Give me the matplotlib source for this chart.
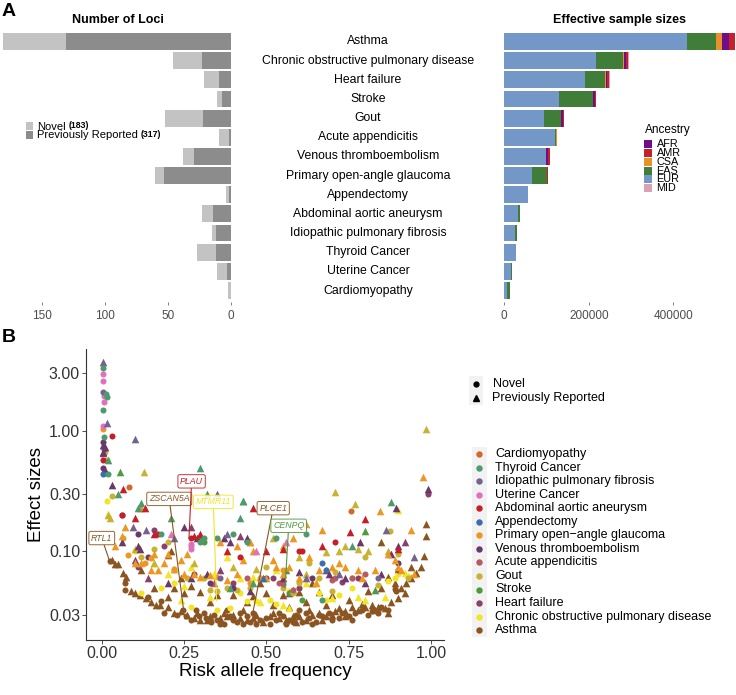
import matplotlib
matplotlib.use("Agg")
import matplotlib.pyplot as plt
import matplotlib.transforms as mtransforms
from matplotlib.patches import Rectangle
import numpy as np

plt.rcParams['font.family'] = ['Liberation Sans', 'DejaVu Sans']

W, H = 736, 695

# ---- panel A data (top to bottom) ----
diseases = ['Asthma', 'Chronic obstructive pulmonary disease', 'Heart failure', 'Stroke', 'Gout',
            'Acute appendicitis', 'Venous thromboembolism', 'Primary open-angle glaucoma', 'Appendectomy',
            'Abdominal aortic aneurysm', 'Idiopathic pulmonary fibrosis', 'Thyroid Cancer',
            'Uterine Cancer', 'Cardiomyopathy']
loci_prev = [131, 23, 9, 7, 22, 1, 29, 53, 1, 14, 12, 12, 3, 0]
loci_novel = [50, 23, 12, 4, 30, 8, 9, 7, 3, 9, 3, 15, 8, 2]

ancestries = ['EUR', 'EAS', 'CSA', 'AFR', 'AMR', 'MID']
n_eur = [433000, 216000, 190000, 129000, 94000, 120000, 98000, 65000, 57000, 33000, 26000, 27000, 15600, 7000]
n_eas = [68000, 64000, 48000, 80000, 40000, 2000, 1000, 37000, 0, 5000, 3000, 1000, 3000, 5500]
n_csa = [14000, 2000, 2000, 1000, 1000, 2000, 0, 0, 0, 0, 0, 0, 0, 0]
n_afr = [17000, 5000, 4000, 4000, 4000, 0, 4000, 0, 0, 0, 0, 0, 0, 0]
n_amr = [13000, 5000, 4000, 3000, 3000, 0, 4000, 1000, 0, 0, 1000, 0, 0, 0]
n_mid = [0, 2500, 2000, 1000, 0, 0, 1000, 1000, 0, 0, 1000, 0, 0, 0]
anc_colors = {'AFR': '#6E0F8A', 'AMR': '#C8202B', 'CSA': '#E6922A', 'EAS': '#3F7D38',
              'EUR': '#7397C6', 'MID': '#D9A0B6'}

# ---- panel B data: (risk allele frequency, effect size) ----
asthma_p = [(0.03, 0.085), (0.04, 0.078), (0.05, 0.078), (0.065, 0.066), (0.075, 0.062), (0.09, 0.047),
            (0.10, 0.045), (0.115, 0.044), (0.135, 0.041), (0.15, 0.038), (0.165, 0.036), (0.178, 0.036),
            (0.2, 0.035), (0.218, 0.031), (0.24, 0.032), (0.26, 0.03), (0.28, 0.028), (0.3, 0.027),
            (0.32, 0.027), (0.36, 0.028), (0.38, 0.029), (0.40, 0.03), (0.42, 0.028), (0.44, 0.027),
            (0.46, 0.028), (0.49, 0.026), (0.52, 0.031), (0.54, 0.028), (0.56, 0.027), (0.58, 0.029),
            (0.60, 0.029), (0.62, 0.027), (0.64, 0.03), (0.66, 0.031), (0.68, 0.029), (0.70, 0.03),
            (0.72, 0.034), (0.74, 0.032), (0.76, 0.035), (0.78, 0.033), (0.80, 0.035), (0.82, 0.036),
            (0.84, 0.035), (0.86, 0.034), (0.88, 0.038), (0.9, 0.041), (0.91, 0.05), (0.925, 0.055),
            (0.94, 0.06), (0.955, 0.066), (0.97, 0.074), (0.98, 0.091), (0.985, 0.135), (0.985, 0.17),
            (0.21, 0.1), (0.2, 0.094), (0.22, 0.05), (0.25, 0.045), (0.3, 0.046), (0.35, 0.044),
            (0.4, 0.044), (0.46, 0.043), (0.5, 0.045), (0.55, 0.044), (0.6, 0.046), (0.66, 0.046),
            (0.7, 0.044), (0.75, 0.04), (0.81, 0.047), (0.85, 0.05), (0.87, 0.061), (0.89, 0.055),
            (0.9, 0.072), (0.85, 0.12), (0.94, 0.075), (0.48, 0.055), (0.12, 0.07), (0.24, 0.06),
            (0.27, 0.052), (0.33, 0.038), (0.44, 0.038), (0.52, 0.036), (0.62, 0.038), (0.68, 0.036),
            (0.2, 0.042), (0.16, 0.05), (0.57, 0.035), (0.64, 0.055),
            (0.29, 0.031), (0.33, 0.029), (0.37, 0.031), (0.43, 0.033), (0.47, 0.03), (0.51, 0.029),
            (0.59, 0.026), (0.63, 0.033), (0.67, 0.027), (0.71, 0.032), (0.74, 0.029), (0.79, 0.037),
            (0.83, 0.033), (0.87, 0.031), (0.92, 0.045)]
asthma_n = [(0.026, 0.083), (0.07, 0.055), (0.07, 0.048), (0.14, 0.042), (0.18, 0.039), (0.19, 0.031),
            (0.248, 0.033), (0.256, 0.029), (0.286, 0.033), (0.296, 0.029), (0.317, 0.028), (0.332, 0.026),
            (0.35, 0.027), (0.37, 0.025), (0.39, 0.029), (0.41, 0.026), (0.43, 0.025), (0.45, 0.026),
            (0.47, 0.025), (0.5, 0.028), (0.53, 0.027), (0.55, 0.029), (0.57, 0.027), (0.59, 0.03),
            (0.61, 0.026), (0.63, 0.028), (0.65, 0.026), (0.67, 0.029), (0.69, 0.031), (0.72, 0.028),
            (0.75, 0.029), (0.77, 0.031), (0.79, 0.033), (0.82, 0.032), (0.85, 0.035), (0.89, 0.049),
            (0.895, 0.047), (0.6, 0.033), (0.38, 0.033), (0.46, 0.031),
            (0.23, 0.03), (0.27, 0.027), (0.31, 0.031), (0.34, 0.03), (0.36, 0.025), (0.4, 0.027),
            (0.42, 0.031), (0.44, 0.029), (0.48, 0.027), (0.51, 0.025), (0.54, 0.031), (0.56, 0.025),
            (0.58, 0.026), (0.62, 0.031), (0.64, 0.025), (0.66, 0.03), (0.7, 0.027), (0.73, 0.031),
            (0.76, 0.027), (0.81, 0.03), (0.84, 0.031), (0.87, 0.033)]
copd_n = [(0.015, 0.26), (0.1, 0.1), (0.12, 0.045), (0.27, 0.035), (0.35, 0.033), (0.39, 0.034),
          (0.44, 0.039), (0.6, 0.05), (0.66, 0.045), (0.68, 0.04), (0.72, 0.044), (0.76, 0.05),
          (0.87, 0.057), (0.9, 0.065), (0.93, 0.063), (0.47, 0.039), (0.51, 0.04), (0.18, 0.05),
          (0.22, 0.055), (0.53, 0.037), (0.57, 0.047), (0.42, 0.045), (0.89, 0.06)]
copd_p = [(0.018, 0.205), (0.16, 0.08), (0.2, 0.065), (0.25, 0.052), (0.27, 0.075), (0.34, 0.065),
          (0.38, 0.09), (0.42, 0.06), (0.48, 0.038), (0.55, 0.036), (0.57, 0.034), (0.65, 0.056),
          (0.7, 0.041), (0.78, 0.042), (0.86, 0.042), (0.9, 0.22), (0.92, 0.066), (0.33, 0.042),
          (0.62, 0.055), (0.46, 0.062), (0.24, 0.04), (0.53, 0.07), (0.8, 0.04)]
gout_n = [(0.01, 0.67), (0.015, 0.57), (0.03, 0.29), (0.065, 0.13), (0.12, 0.09), (0.16, 0.105),
          (0.2, 0.12), (0.31, 0.06), (0.33, 0.048), (0.35, 0.047), (0.38, 0.05), (0.41, 0.048),
          (0.48, 0.06), (0.5, 0.075), (0.55, 0.05), (0.58, 0.045), (0.6, 0.055), (0.63, 0.08),
          (0.66, 0.06), (0.7, 0.047), (0.76, 0.06), (0.8, 0.09), (0.84, 0.053), (0.877, 0.147),
          (0.9, 0.095), (0.93, 0.06), (0.71, 0.068), (0.45, 0.05), (0.26, 0.06), (0.22, 0.07)]
gout_p = [(0.02, 0.2), (0.025, 0.19), (0.128, 0.45), (0.709, 0.31), (0.77, 0.246), (0.985, 1.04),
          (0.45, 0.12), (0.6, 0.09), (0.72, 0.1), (0.78, 0.105), (0.81, 0.1), (0.87, 0.1),
          (0.52, 0.13), (0.4, 0.075), (0.28, 0.08), (0.62, 0.065), (0.55, 0.11), (0.68, 0.098),
          (0.74, 0.11), (0.16, 0.08), (0.1, 0.105), (0.47, 0.072)]
poag_n = [(0.005, 1.03), (0.08, 0.094), (0.15, 0.088), (0.22, 0.072), (0.13, 0.08), (0.45, 0.055),
          (0.55, 0.07)]
poag_p = [(0.975, 0.41), (0.845, 0.216), (0.94, 0.15), (0.12, 0.23), (0.07, 0.16), (0.06, 0.135),
          (0.1, 0.08), (0.12, 0.08), (0.15, 0.07), (0.17, 0.07), (0.19, 0.08), (0.22, 0.072),
          (0.25, 0.065), (0.28, 0.065), (0.3, 0.062), (0.33, 0.064), (0.35, 0.063), (0.38, 0.058),
          (0.41, 0.065), (0.43, 0.085), (0.45, 0.12), (0.48, 0.062), (0.5, 0.06), (0.52, 0.085),
          (0.55, 0.065), (0.57, 0.075), (0.6, 0.06), (0.62, 0.17), (0.63, 0.09), (0.65, 0.055),
          (0.67, 0.15), (0.7, 0.075), (0.72, 0.08), (0.74, 0.075), (0.79, 0.06), (0.83, 0.07),
          (0.87, 0.095), (0.89, 0.085), (0.91, 0.07), (0.95, 0.065), (0.04, 0.11), (0.16, 0.095),
          (0.2, 0.095), (0.26, 0.095), (0.36, 0.12), (0.41, 0.11), (0.46, 0.1), (0.53, 0.075),
          (0.58, 0.13), (0.66, 0.07), (0.24, 0.085), (0.78, 0.07), (0.9, 0.075)]
vte_n = [(0.005, 0.81), (0.008, 0.71), (0.005, 0.49), (0.11, 0.14), (0.14, 0.09), (0.33, 0.055),
         (0.4, 0.05), (0.5, 0.06), (0.64, 0.06), (0.9, 0.08)]
vte_p = [(0.003, 0.76), (0.01, 0.73), (0.005, 0.66), (0.008, 0.47), (0.012, 0.45), (0.03, 0.356),
         (0.11, 0.11), (0.115, 0.105), (0.06, 0.12), (0.25, 0.16), (0.29, 0.13), (0.37, 0.13),
         (0.39, 0.12), (0.44, 0.13), (0.786, 0.12), (0.894, 0.228), (0.99, 0.33), (0.27, 0.06),
         (0.32, 0.065), (0.45, 0.047), (0.55, 0.06), (0.69, 0.065), (0.74, 0.06), (0.8, 0.055),
         (0.88, 0.095), (0.9, 0.11), (0.85, 0.065), (0.6, 0.067), (0.2, 0.055)]
ipf_n = [(0.005, 2.1), (0.36, 0.06), (0.84, 0.06)]
ipf_p = [(0.003, 3.7), (0.1, 0.85), (0.015, 1.15), (0.095, 0.16), (0.135, 0.15), (0.22, 0.13),
         (0.38, 0.14), (0.863, 0.149), (0.72, 0.065), (0.62, 0.06), (0.35, 0.3), (0.95, 0.09)]
hf_n = [(0.99, 0.3), (0.06, 0.2), (0.16, 0.15), (0.19, 0.11), (0.28, 0.065), (0.4, 0.055),
        (0.52, 0.06), (0.73, 0.056), (0.78, 0.06), (0.6, 0.05), (0.9, 0.07), (0.11, 0.075)]
hf_p = [(0.005, 0.65), (0.1, 0.085), (0.14, 0.06), (0.27, 0.16), (0.42, 0.135), (0.68, 0.07),
        (0.92, 0.12), (0.36, 0.07), (0.57, 0.045)]
stroke_n = [(0.3, 0.13), (0.31, 0.12), (0.57, 0.045), (0.61, 0.04)]
stroke_p = [(0.054, 0.45), (0.32, 0.3), (0.43, 0.26), (0.58, 0.048), (0.8, 0.148), (0.56, 0.07),
            (0.83, 0.048)]
thyroid_n = [(0.005, 3.3), (0.012, 2.0), (0.015, 1.9), (0.005, 1.48), (0.007, 0.89), (0.02, 0.44),
             (0.18, 0.14), (0.31, 0.13), (0.3, 0.12), (0.35, 0.13), (0.4, 0.14), (0.44, 0.12),
             (0.53, 0.13), (0.62, 0.14), (0.67, 0.04)]
thyroid_p = [(0.02, 0.57), (0.298, 0.494), (0.05, 0.3), (0.11, 0.23), (0.12, 0.25), (0.21, 0.19),
             (0.43, 0.26), (0.88, 0.254), (0.42, 0.19), (0.76, 0.11), (0.39, 0.05), (0.46, 0.055)]
uterine_n = [(0.005, 2.93), (0.005, 2.58), (0.008, 1.95), (0.008, 1.73), (0.005, 1.1), (0.27, 0.11),
             (0.27, 0.105), (0.27, 0.115)]
uterine_p = [(0.21, 0.14), (0.47, 0.1), (0.56, 0.12)]
aaa_n = [(0.031, 0.9), (0.004, 0.57), (0.27, 0.13), (0.06, 0.2), (0.6, 0.1), (0.61, 0.1),
         (0.42, 0.09), (0.71, 0.12), (0.17, 0.14)]
aaa_p = [(0.066, 0.33), (0.1, 0.19), (0.13, 0.23), (0.16, 0.14), (0.28, 0.135), (0.3, 0.14),
         (0.38, 0.1), (0.46, 0.23), (0.5, 0.1), (0.754, 0.144), (0.8, 0.186), (0.67, 0.11),
         (0.55, 0.105), (0.9, 0.105)]
append_n = [(0.005, 0.44), (0.67, 0.08), (0.68, 0.07)]
append_p = [(0.49, 0.06)]
acute_n = [(0.54, 0.055), (0.55, 0.054), (0.71, 0.06), (0.76, 0.06), (0.58, 0.048), (0.44, 0.06),
           (0.8, 0.065), (0.7, 0.058)]
acute_p = [(0.34, 0.055)]
cardio_n = [(0.082, 0.34), (0.756, 0.218)]
cardio_p = []

legend_order = ['Cardiomyopathy', 'Thyroid Cancer', 'Idiopathic pulmonary fibrosis', 'Uterine Cancer',
                'Abdominal aortic aneurysm', 'Appendectomy', 'Primary open\u2212angle glaucoma',
                'Venous thromboembolism', 'Acute appendicitis', 'Gout', 'Stroke', 'Heart failure',
                'Chronic obstructive pulmonary disease', 'Asthma']
dis_colors = ['#D2692B', '#4E9A6C', '#74628F', '#E070BE', '#C61E27', '#3C6DB0', '#EC9722',
              '#6A3869', '#B55A67', '#C9B232', '#4F9A3E', '#8C3E6F', '#F3E525', '#8B5420']
groups = [(cardio_n, cardio_p), (thyroid_n, thyroid_p), (ipf_n, ipf_p), (uterine_n, uterine_p),
          (aaa_n, aaa_p), (append_n, append_p), (poag_n, poag_p), (vte_n, vte_p),
          (acute_n, acute_p), (gout_n, gout_p), (stroke_n, stroke_p), (hf_n, hf_p),
          (copd_n, copd_p), (asthma_n, asthma_p)]

genes = ['RTL1', 'ZSCAN5A', 'PLAU', 'MTMR11', 'PLCE1', 'CENPQ']
gene_colors = ['#8B5420', '#8B5420', '#C61E27', '#F3E525', '#8B5420', '#4F9A3E']
gene_label_xy = [(0.0, 0.129), (0.205, 0.272), (0.273, 0.38), (0.339, 0.257), (0.521, 0.228), (0.568, 0.163)]
gene_point_xy = [(0.022, 0.086), (0.248, 0.034), (0.265, 0.128), (0.349, 0.039), (0.457, 0.029), (0.557, 0.05)]


def box(left, top, right, bottom):
    return [left / W, 1 - bottom / H, (right - left) / W, (bottom - top) / H]


fig = plt.figure(figsize=(W / 100, H / 100), dpi=100)
tick_grey = '#4D4D4D'
ypos = np.arange(len(diseases))

# left: number of loci
axl = fig.add_axes(box(0, 30, 235, 302))
axl.barh(ypos, loci_prev, height=0.88, color='#8C8C8C', edgecolor='none')
axl.barh(ypos, loci_novel, left=loci_prev, height=0.88, color='#C3C3C3', edgecolor='none')
axl.set_xlim(183.5, -3.5)
axl.set_ylim(len(diseases) - 0.4, -0.6)
axl.set_yticks([])
axl.set_xticks([0, 50, 100, 150])
axl.tick_params(axis='x', colors=tick_grey, labelsize=8.5, length=2, width=0.5, pad=4)
for s in axl.spines.values():
    s.set_visible(False)
axl.set_title('Number of Loci', fontsize=9, fontweight='bold', pad=5)

trans = mtransforms.blended_transform_factory(fig.transFigure, axl.transData)
for i, d in enumerate(diseases):
    axl.text(368 / W, i, d, transform=trans, ha='center', va='center', fontsize=8.8)

# right: effective sample sizes
axr = fig.add_axes(box(503, 30, 736, 302))
left = np.zeros(len(diseases))
for a, vals in zip(ancestries, [n_eur, n_eas, n_csa, n_afr, n_amr, n_mid]):
    axr.barh(ypos, vals, left=left, height=0.88, color=anc_colors[a], edgecolor='none')
    left = left + np.array(vals)
axr.set_xlim(-3000, 548000)
axr.set_ylim(len(diseases) - 0.4, -0.6)
axr.set_yticks([])
axr.set_xticks([0, 200000, 400000])
axr.set_xticklabels(['0', '200000', '400000'])
axr.tick_params(axis='x', colors=tick_grey, labelsize=8.5, length=2, width=0.5, pad=4)
for s in axr.spines.values():
    s.set_visible(False)
axr.set_title('Effective sample sizes', fontsize=9, fontweight='bold', pad=5)

# scatter
axs = fig.add_axes(box(86.3, 349, 444, 640))
for (nov, prv), c in list(zip(groups, dis_colors))[::-1]:
    if nov:
        xs, ys = zip(*nov)
        axs.scatter(xs, ys, marker='o', s=19, color=c, linewidths=0, zorder=3)
    if prv:
        xs, ys = zip(*prv)
        axs.scatter(xs, ys, marker='^', s=30, color=c, linewidths=0, zorder=3)
for g, c, (lx, ly), (px, py) in zip(genes, gene_colors, gene_label_xy, gene_point_xy):
    axs.annotate(g, xy=(px, py), xytext=(lx, ly), ha='center', va='center', fontsize=6.3,
                 fontstyle='italic', color=c, zorder=5,
                 bbox=dict(boxstyle='round,pad=0.25,rounding_size=0.2', fc='white', ec=c, lw=0.7, alpha=0.9),
                 arrowprops=dict(arrowstyle='-', color=c, lw=0.8, shrinkA=0, shrinkB=0))
axs.set_yscale('log')
axs.set_xlim(-0.047, 1.04)
axs.set_ylim(0.0185, 4.73)
axs.set_yticks([0.03, 0.1, 0.3, 1, 3])
axs.set_yticklabels(['0.03', '0.10', '0.30', '1.00', '3.00'])
axs.minorticks_off()
axs.set_xticks([0, 0.25, 0.5, 0.75, 1.0])
axs.set_xticklabels(['0.00', '0.25', '0.50', '0.75', '1.00'])
axs.tick_params(labelsize=11.5, colors='#333333', length=3, width=0.6, pad=1.5)
for s in ['top', 'right']:
    axs.spines[s].set_visible(False)
for s in ['left', 'bottom']:
    axs.spines[s].set_linewidth(0.8)
    axs.spines[s].set_color('#333333')
axs.set_xlabel('Risk allele frequency', fontsize=13.5, labelpad=1)
axs.set_ylabel('Effect sizes', fontsize=13.5, labelpad=3)

# overlay for panel letters and legends (pixel coordinates)
ov = fig.add_axes([0, 0, 1, 1])
ov.set_xlim(0, W)
ov.set_ylim(H, 0)
ov.axis('off')
ov.text(2, 12, 'A', fontsize=14, fontweight='bold', va='center')
ov.text(2, 337, 'B', fontsize=14, fontweight='bold', va='center')

# loci legend
ov.add_patch(Rectangle((26, 121.7), 7.3, 8.3, color='#C3C3C3', lw=0))
ov.add_patch(Rectangle((26, 130.7), 7.3, 8.3, color='#8C8C8C', lw=0))
t1 = ov.text(37, 126.5, 'Novel', fontsize=8, va='center')
ov.annotate('(183)', xy=(1, 0.6), xycoords=t1, xytext=(2, 0), textcoords='offset points',
            fontsize=6.3, fontweight='bold', va='center')
t2 = ov.text(37, 135.5, 'Previously Reported', fontsize=8, va='center')
ov.annotate('(317)', xy=(1, 0.6), xycoords=t2, xytext=(2, 0), textcoords='offset points',
            fontsize=6.3, fontweight='bold', va='center')

# ancestry legend
ov.text(645, 130, 'Ancestry', fontsize=8.5, va='center')
for i, a in enumerate(['AFR', 'AMR', 'CSA', 'EAS', 'EUR', 'MID']):
    yc = 143.8 + i * 8.9
    ov.add_patch(Rectangle((644, yc - 4), 7.6, 8, color=anc_colors[a], lw=0))
    ov.text(656.5, yc, a, fontsize=7.8, va='center')

# shape legend
ov.add_patch(Rectangle((469, 376), 14, 29, color='#F2F2F2', lw=0))
ov.plot([476], [383.5], marker='o', ms=3.5, color='black', ls='none')
ov.plot([476], [398], marker='^', ms=4.2, color='black', ls='none')
ov.text(492.5, 384, 'Novel', fontsize=9, va='center')
ov.text(492.5, 398.5, 'Previously Reported', fontsize=9, va='center')

# disease colour legend
ov.add_patch(Rectangle((472, 446.5), 14.5, 190, color='#F2F2F2', lw=0))
for i, (d, c) in enumerate(zip(legend_order, dis_colors)):
    yc = 454 + i * 13.55
    ov.plot([479], [yc], marker='o', ms=3.6, color=c, ls='none')
    ov.text(495, yc, d, fontsize=9, va='center')

fig.savefig('out.png', dpi=100)
